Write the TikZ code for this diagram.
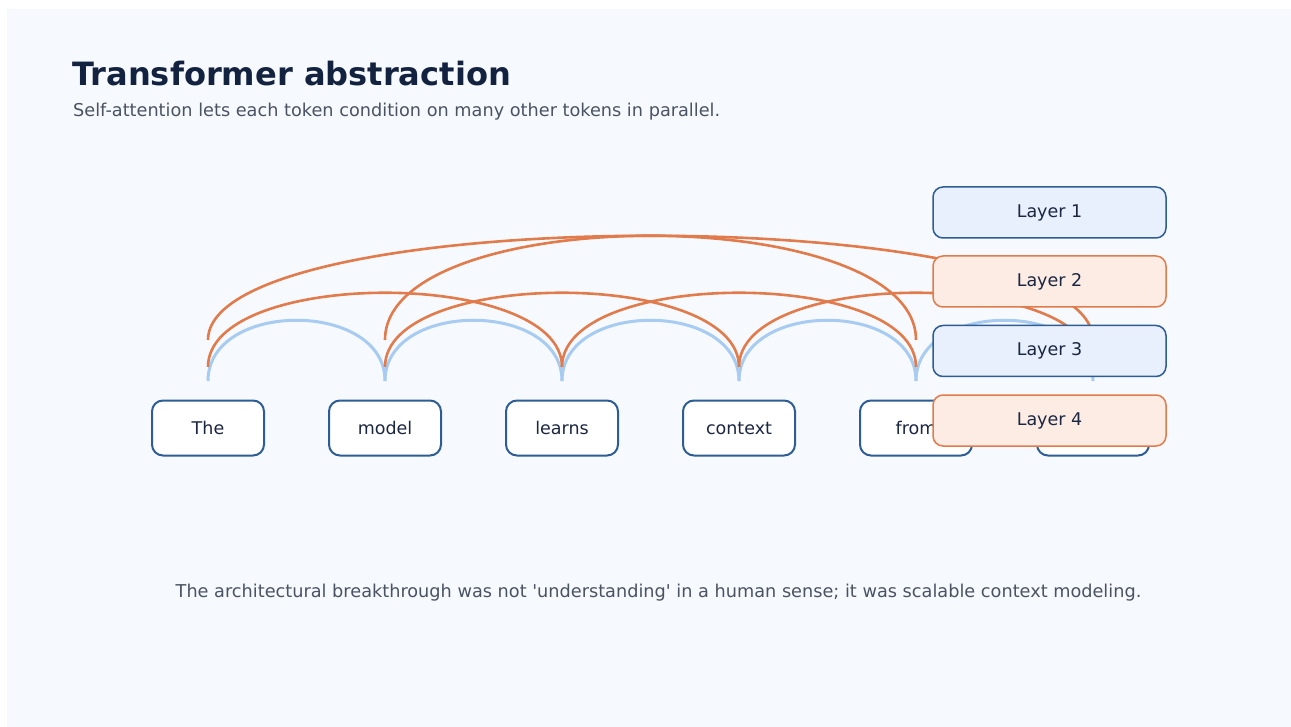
\documentclass[tikz,border=0pt]{standalone}
\usepackage{fontspec}
\setmainfont{DejaVu Sans}
\definecolor{panel}{HTML}{F6F9FE}
\definecolor{titlec}{HTML}{13223F}
\definecolor{subc}{HTML}{4B5363}
\definecolor{textc}{HTML}{1B2640}
\definecolor{tokstroke}{HTML}{2D5D93}
\definecolor{arcblue}{HTML}{A8CCF1}
\definecolor{arcorange}{HTML}{E27B4B}
\definecolor{legblue}{HTML}{E8F0FD}
\definecolor{legorange}{HTML}{FDECE3}
\tikzset{
  tokbox/.style={draw=tokstroke, line width=2pt, fill=white, rounded corners=11pt,
    minimum width=112pt, minimum height=55pt, inner sep=0pt, text=textc,
    font=\fontsize{17.5}{20}\selectfont},
  legbox/.style={line width=1.5pt, rounded corners=10pt, minimum width=233pt,
    minimum height=51pt, inner sep=0pt, text=textc, font=\fontsize{17.5}{20}\selectfont},
  legB/.style={legbox, draw=tokstroke, fill=legblue},
  legO/.style={legbox, draw=arcorange, fill=legorange},
  arcB/.style={draw=arcblue, line width=3pt},
  arcO/.style={draw=arcorange, line width=2.6pt},
}
\begin{document}
\begin{tikzpicture}[x=1pt, y=-1pt]
\useasboundingbox (0,0) rectangle (1291,727);
\fill[white] (0,0) rectangle (1291,727);
\fill[panel] (7,9) rectangle (1291,727);

\node[anchor=base west, inner sep=0pt, text=titlec, font=\fontsize{32.1}{36}\selectfont\bfseries] (title) at (72,86) {Transformer abstraction};
\node[anchor=base west, inner sep=0pt, text=subc, font=\fontsize{17.7}{20}\selectfont] (sub) at (73,117) {Self-attention lets each token condition on many other tokens in parallel.};
\node[anchor=base, inner sep=0pt, text=subc, font=\fontsize{17.7}{20}\selectfont] (foot) at (658.5,597) {The architectural breakthrough was not \textquotesingle understanding\textquotesingle{} in a human sense; it was scalable context modeling.};

% tokens
\node[tokbox] (t1) at (208,428) {The};
\node[tokbox] (t2) at (385,428) {model};
\node[tokbox] (t3) at (562,428) {learns};
\node[tokbox] (t4) at (739,428) {context};
\node[tokbox] (t5) at (916,428) {from};
\node[tokbox] (t6) at (1093,428) {};

% attachment points above tokens
\foreach \i/\x in {1/208,2/385,3/562,4/739,5/916,6/1093}{
  \coordinate (b\i) at (\x,381);
  \coordinate (m\i) at (\x,367);
  \coordinate (o\i) at (\x,340);
}

% span-1 arcs (blue)
\foreach \a/\b in {1/2,2/3,3/4,4/5,5/6}{
  \draw[arcB] (b\a) .. controls +(0,-81) and +(0,-81) .. (b\b);
}
% span-2 arcs (orange)
\foreach \a/\b in {1/3,2/4,3/5,4/6}{
  \draw[arcO] (m\a) .. controls +(0,-99) and +(0,-99) .. (m\b);
}
% long arcs (orange)
\draw[arcO] (o1) .. controls +(0,-139) and +(0,-139) .. (o6);
\draw[arcO] (o2) .. controls +(0,-139) and +(0,-139) .. (o5);

% legend
\node[legB] (l1) at (1049.5,212.5) {Layer 1};
\node[legO] (l2) at (1049.5,281.5) {Layer 2};
\node[legB] (l3) at (1049.5,351) {Layer 3};
\node[legO] (l4) at (1049.5,420.5) {Layer 4};
\end{tikzpicture}
\end{document}
